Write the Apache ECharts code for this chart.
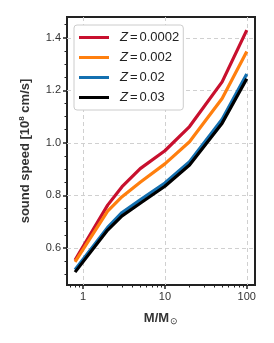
<!DOCTYPE html>
<html><head><meta charset="utf-8">
<script src="https://cdn.jsdelivr.net/npm/echarts@6/dist/echarts.min.js"></script>
<style>html,body{margin:0;padding:0;background:#fff}#c{width:274px;height:343px}</style>
</head><body><div id="c"></div>
<script>
const masses = [0.8, 2, 3, 5, 10, 20, 50, 100];
const z0002 = [0.554, 0.763, 0.833, 0.902, 0.970, 1.062, 1.232, 1.429];
const z002  = [0.547, 0.740, 0.795, 0.850, 0.920, 1.004, 1.169, 1.348];
const z02   = [0.517, 0.678, 0.735, 0.783, 0.847, 0.928, 1.090, 1.262];
const z03   = [0.508, 0.668, 0.722, 0.770, 0.835, 0.916, 1.075, 1.244];
const seriesNames = ['0.0002', '0.002', '0.02', '0.03'];
const xTicks = [1, 10, 100];
const xMinor = [0.7, 0.8, 0.9, 2, 3, 4, 5, 6, 7, 8, 9, 20, 30, 40, 50, 60, 70, 80, 90];
const yTicks = [0.6, 0.8, 1.0, 1.2, 1.4];
const yMinor = [0.5, 0.55, 0.65, 0.7, 0.75, 0.85, 0.9, 0.95, 1.05, 1.1, 1.15, 1.25, 1.3, 1.35, 1.45];

const colors = ['#c8102e', '#ff7f0e', '#1470b0', '#000000'];
const font = 'Liberation Sans, Arial, sans-serif';
const xMin = 0.638, xMax = 126, yMin = 0.459, yMax = 1.479;
const all = [z0002, z002, z02, z03];

const chart = echarts.init(document.getElementById('c'), null, {renderer: 'canvas'});
chart.setOption({
  animation: false,
  grid: {left: 67, right: 19, top: 17, bottom: 58, show: true, borderColor: '#222', borderWidth: 2, backgroundColor: 'transparent'},
  legend: {
    left: 74, top: 25, orient: 'vertical',
    data: seriesNames.map(n => ({name: n, icon: 'rect'})),
    itemWidth: 30, itemHeight: 3, itemGap: 5,
    padding: [5, 4, 5, 5],
    backgroundColor: '#fff', borderColor: '#ccc', borderWidth: 1, borderRadius: 3,
    formatter: n => '{i|Z}{e|=}{n|' + n + '}',
    textStyle: {
      fontFamily: font, fontSize: 13, color: '#222', padding: [0, 0, 0, 6], lineHeight: 15,
      rich: {
        i: {fontStyle: 'italic', fontFamily: font, fontSize: 13, color: '#222'},
        e: {fontFamily: font, fontSize: 13, color: '#222', padding: [0, 2, 0, 2]},
        n: {fontFamily: font, fontSize: 13, color: '#222'}
      }
    }
  },
  xAxis: [{
    type: 'log', min: xMin, max: xMax, position: 'bottom',
    axisLine: {show: false},
    axisTick: {show: true, inside: false, length: 4, lineStyle: {color: '#222', width: 1.5}, customValues: xTicks},
    axisLabel: {customValues: xTicks, fontFamily: font, fontSize: 11, color: '#333', margin: 6, formatter: v => String(v)},
    splitLine: {show: true, lineStyle: {color: '#d0d0d0', type: [4, 3], width: 1}},
    name: '{a|M/M}{s|⊙}', nameLocation: 'middle', nameGap: 26,
    nameTextStyle: {rich: {a: {fontFamily: font, fontSize: 13, fontWeight: 'bold', color: '#333'}, s: {fontFamily: font, fontSize: 9, color: '#333', verticalAlign: 'bottom', padding: [6, 0, 0, 1]}}}
  }, {
    type: 'log', min: xMin, max: xMax, position: 'bottom',
    axisLine: {show: false},
    axisTick: {show: true, inside: false, length: 2.5, lineStyle: {color: '#222', width: 1}, customValues: xMinor},
    axisLabel: {show: false}, splitLine: {show: false}
  }],
  yAxis: [{
    type: 'value', min: yMin, max: yMax, position: 'left',
    axisLine: {show: false},
    axisTick: {show: true, inside: false, length: 4, lineStyle: {color: '#222', width: 1.5}, customValues: yTicks},
    axisLabel: {customValues: yTicks, fontFamily: font, fontSize: 11, color: '#333', margin: 6, formatter: v => v.toFixed(1)},
    splitLine: {show: true, lineStyle: {color: '#d0d0d0', type: [4, 3], width: 1}},
    name: '{a|sound speed [10}{s|8}{a| cm/s]}', nameLocation: 'middle', nameGap: 35,
    nameTextStyle: {rich: {a: {fontFamily: font, fontSize: 13, fontWeight: 'bold', color: '#333'}, s: {fontFamily: font, fontSize: 8, fontWeight: 'bold', color: '#333', verticalAlign: 'top', padding: [0, 0, 6, 0]}}}
  }, {
    type: 'value', min: yMin, max: yMax, position: 'left',
    axisLine: {show: false},
    axisTick: {show: true, inside: false, length: 2.5, lineStyle: {color: '#222', width: 1}, customValues: yMinor},
    axisLabel: {show: false}, splitLine: {show: false}
  }],
  series: seriesNames.map((n, i) => ({
    name: n, type: 'line', xAxisIndex: 0, yAxisIndex: 0,
    data: masses.map((m, k) => [m, all[i][k]]),
    showSymbol: false, symbol: 'none',
    lineStyle: {color: colors[i], width: 3.2},
    itemStyle: {color: colors[i]},
    z: 2 + i
  }))
});
</script></body></html>
